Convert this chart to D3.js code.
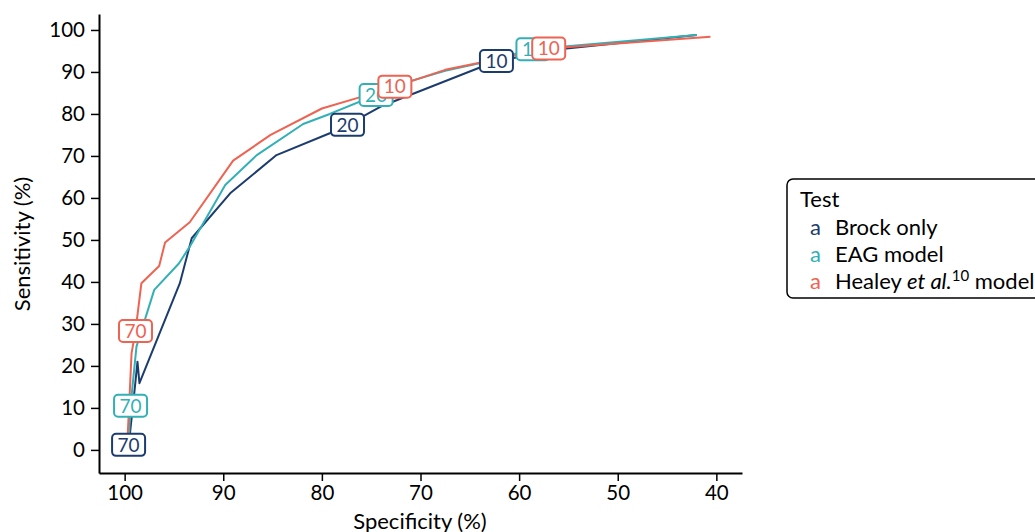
<!DOCTYPE html>
<html>
<head>
<meta charset="utf-8">
<script src="https://cdn.jsdelivr.net/npm/d3@7"></script>
<style>
  body { margin: 0; background: #fff; }
  svg { font-family: Lato, "Open Sans", sans-serif; display: block; }
</style>
</head>
<body>
<svg id="chart" width="1035" height="532"></svg>
<script>
// data (specificity %, sensitivity %)
const seriesNames = ["Brock only", "EAG model", "Healey model"];
const seriesColors = ["#1d3c6e", "#33b0b5", "#ee6352"];

const brockSpec = [99.6, 98.9, 98.7, 98.5, 94.4, 93.2, 89.3, 84.6, 79.2, 77.4, 73.9, 62.3, 55.2, 42.0];
const brockSens = [0.8, 16.3, 21.0, 15.9, 39.7, 50.4, 61.1, 70.2, 75.4, 77.4, 81.9, 92.6, 95.6, 98.8];

const eagSpec = [99.6, 99.4, 98.8, 97.0, 94.5, 93.4, 89.8, 86.6, 81.9, 79.2, 74.5, 71.2, 67.5, 63.8, 58.6, 42.0];
const eagSens = [1.5, 10.5, 24.6, 38.1, 44.4, 48.4, 63.1, 70.2, 77.6, 80.0, 84.5, 87.7, 90.3, 92.2, 95.4, 98.8];

const healeySpec = [99.7, 99.5, 99.3, 98.9, 98.3, 96.5, 95.9, 93.4, 89.0, 85.2, 80.0, 76.1, 72.6, 67.5, 64.0, 57.0, 40.6];
const healeySens = [3.0, 12.7, 23.0, 28.3, 39.7, 43.8, 49.4, 54.2, 68.9, 75.0, 81.3, 84.0, 86.5, 90.5, 92.2, 95.6, 98.4];

// threshold labels
const labelSeries = [0, 0, 0, 1, 1, 1, 2, 2, 2];
const labelSpec = [99.6, 77.4, 62.3, 99.4, 74.5, 58.6, 98.9, 72.6, 57.0];
const labelSens = [1.2, 77.4, 92.6, 10.5, 84.5, 95.4, 28.3, 86.5, 95.6];
const labelText = ["70", "20", "10", "70", "20", "10", "70", "10", "10"];

const xTicks = [100, 90, 80, 70, 60, 50, 40];
const yTicks = [0, 10, 20, 30, 40, 50, 60, 70, 80, 90, 100];

const svg = d3.select("#chart");
const x = d3.scaleLinear().domain([102.6, 37.4]).range([99, 742]);
const y = d3.scaleLinear().domain([-5.5, 103.8]).range([473, 14]);

const series = [
  d3.zip(brockSpec, brockSens),
  d3.zip(eagSpec, eagSens),
  d3.zip(healeySpec, healeySens)
];

// axes
const xAxis = svg.append("g")
  .attr("transform", "translate(0,473)")
  .call(d3.axisBottom(x).tickValues(xTicks).tickSize(8).tickPadding(4).tickSizeOuter(0));
const yAxis = svg.append("g")
  .attr("transform", "translate(99,0)")
  .call(d3.axisLeft(y).tickValues(yTicks).tickSize(8).tickPadding(6).tickSizeOuter(0));
[xAxis, yAxis].forEach(function (a) {
  a.select(".domain").attr("stroke", "#000").attr("stroke-width", 2);
  a.selectAll(".tick line").attr("stroke", "#000").attr("stroke-width", 1.5);
  a.selectAll(".tick text").attr("fill", "#000").style("font-size", "20.5px").style("font-family", "Lato");
});

svg.append("text")
  .attr("x", 420).attr("y", 529)
  .attr("text-anchor", "middle")
  .style("font-size", "22px")
  .text("Specificity (%)");
svg.append("text")
  .attr("transform", "translate(30,244) rotate(-90)")
  .attr("text-anchor", "middle")
  .style("font-size", "22px")
  .text("Sensitivity (%)");

// lines
const line = d3.line().x(d => x(d[0])).y(d => y(d[1]));
svg.append("g").selectAll("path")
  .data(series)
  .join("path")
  .attr("d", line)
  .attr("fill", "none")
  .attr("stroke", (d, i) => seriesColors[i])
  .attr("stroke-width", 2)
  .attr("stroke-linejoin", "round");

// labels, drawn after all lines, red on top
const labels = svg.append("g").selectAll("g")
  .data(d3.range(labelText.length))
  .join("g")
  .attr("transform", i => `translate(${x(labelSpec[i])},${y(labelSens[i])})`);
labels.append("rect")
  .attr("x", -16.5).attr("y", -11)
  .attr("width", 33).attr("height", 22)
  .attr("rx", 4)
  .attr("fill", "#fff")
  .attr("stroke", i => seriesColors[labelSeries[i]])
  .attr("stroke-width", 2);
labels.append("text")
  .attr("text-anchor", "middle")
  .attr("dy", "0.36em")
  .attr("fill", i => seriesColors[labelSeries[i]])
  .style("font-size", "19px")
  .text(i => labelText[i]);

// legend
const legend = svg.append("g");
legend.append("rect")
  .attr("x", 787).attr("y", 179)
  .attr("width", 320).attr("height", 119)
  .attr("rx", 6)
  .attr("fill", "#fff")
  .attr("stroke", "#000")
  .attr("stroke-width", 1.5);
legend.append("text")
  .attr("x", 800).attr("y", 207)
  .style("font-size", "22px")
  .text("Test");
const entries = legend.selectAll("g.entry")
  .data(seriesNames)
  .join("g")
  .attr("class", "entry")
  .attr("transform", (d, i) => `translate(0,${235 + i * 27})`);
entries.append("text")
  .attr("x", 810)
  .attr("fill", (d, i) => seriesColors[i])
  .style("font-size", "22px")
  .text("a");
entries.append("text")
  .attr("x", 835)
  .style("font-size", "22px")
  .each(function (d, i) {
    const t = d3.select(this);
    if (i < 2) { t.text(d); return; }
    t.append("tspan").text("Healey ");
    t.append("tspan").style("font-style", "italic").text("et al.");
    t.append("tspan").attr("dy", -8).style("font-size", "15px").text("10");
    t.append("tspan").attr("dy", 8).text(" model");
  });
</script>
</body>
</html>
